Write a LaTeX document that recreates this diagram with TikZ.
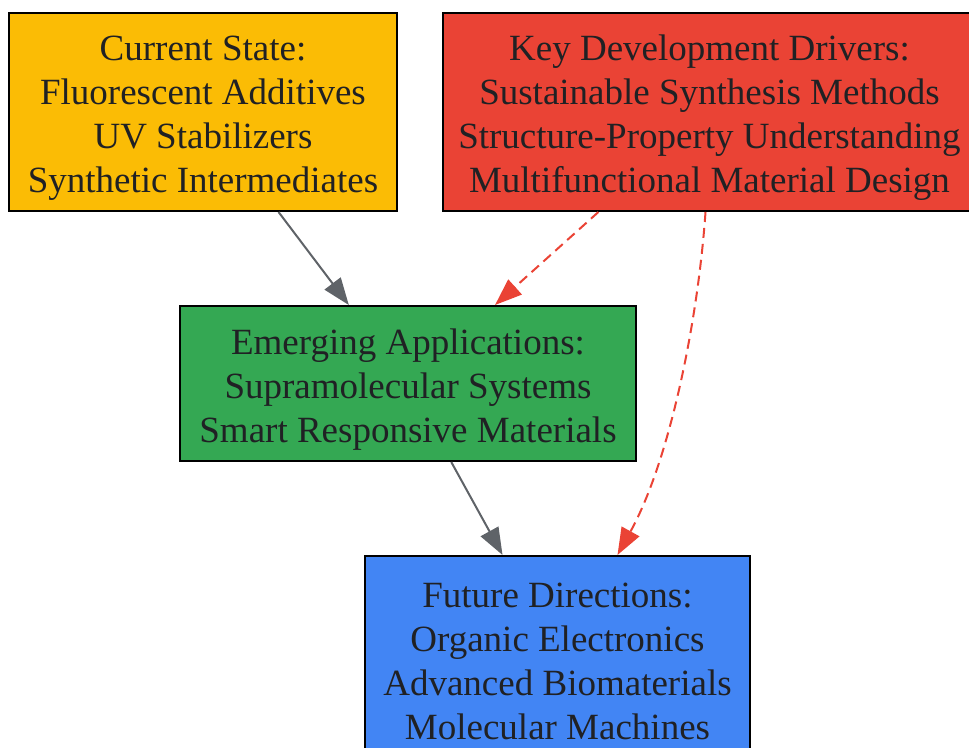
\documentclass[tikz,border=0pt]{standalone}
\usepackage{fontspec}
\setmainfont{Liberation Serif}
\usetikzlibrary{arrows.meta}
\definecolor{cyel}{HTML}{FBBC05}
\definecolor{cred}{HTML}{EA4335}
\definecolor{cgrn}{HTML}{34A853}
\definecolor{cblu}{HTML}{4285F4}
\definecolor{ctxt}{HTML}{202124}
\definecolor{cgry}{HTML}{5F6368}
\newcommand{\toppad}{\rule{0pt}{18.5pt}}
\tikzset{
  box/.style={draw=black, line width=1pt, rectangle, align=center, text=ctxt,
    font=\fontsize{18.5}{22}\selectfont, inner sep=0pt},
  solidedge/.style={draw=cgry, line width=1pt, -{Triangle[length=13.5pt,width=10pt]}},
  dashedge/.style={draw=cred, line width=1pt, dash pattern=on 5pt off 3pt,
    -{Triangle[length=13.5pt,width=10pt,sep=0pt]}},
}
\begin{document}
\begin{tikzpicture}[x=0.5pt,y=-0.5pt]
\useasboundingbox (0,0) rectangle (969,748);
\node[box, fill=cyel, minimum width=194pt, minimum height=99pt] (cur) at (203,112)
  {\toppad Current State:\\Fluorescent Additives\\UV Stabilizers\\Synthetic Intermediates};
\node[box, fill=cred, minimum width=266.5pt, minimum height=99pt] (key) at (709.5,112)
  {\toppad Key Development Drivers:\\Sustainable Synthesis Methods\\Structure-Property Understanding\\Multifunctional Material Design};
\node[box, fill=cgrn, minimum width=228pt, minimum height=77.5pt] (emg) at (408,383.5)
  {\toppad Emerging Applications:\\Supramolecular Systems\\Smart Responsive Materials};
\node[box, fill=cblu, minimum width=192.5pt, minimum height=99pt] (fut) at (557.5,655)
  {\toppad Future Directions:\\Organic Electronics\\Advanced Biomaterials\\Molecular Machines};
\draw[solidedge] (cur) -- (emg);
\draw[dashedge] (key) -- (emg);
\draw[solidedge] (emg) -- (fut);
\draw[dashedge] ([xshift=-2pt]key.south) .. controls (698,320) and (670,460) .. ([xshift=30pt]fut.north);
\end{tikzpicture}
\end{document}
